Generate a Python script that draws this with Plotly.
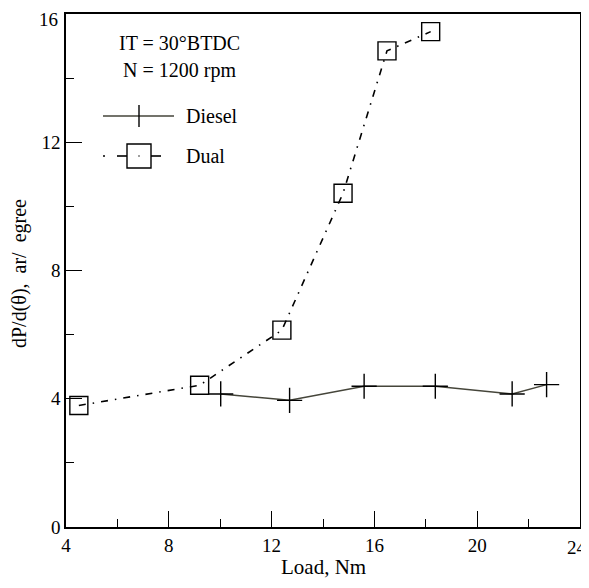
import plotly.graph_objects as go

# Data
diesel_load = [10.02, 12.7, 15.6, 18.37, 21.36, 22.7]
diesel_val = [4.15, 3.95, 4.39, 4.39, 4.15, 4.44]
dual_load = [4.5, 9.2, 12.4, 14.78, 16.49, 18.19]
dual_val = [3.79, 4.42, 6.14, 10.41, 14.85, 15.45]
x_ticks = [4, 8, 12, 16, 20, 24]
y_ticks = [0, 4, 8, 12, 16]

FONT = "Liberation Serif"
OFF = 8  # browser default body margin
W, H = 589 - OFF, 588 - 2 * OFF
# plot area in page pixels: x 66..580, y 14..527
L, R, T, B = 66 - OFF, W - (580 - OFF), 14 - OFF, H - (527 - OFF)
pw, ph = W - L - R, H - T - B

def px(xp):
    return (xp - OFF - L) / pw

def py(yp):
    return (H - B - (yp - OFF)) / ph

fig = go.Figure()
fig.add_trace(go.Scatter(
    x=dual_load, y=dual_val, mode="lines+markers", name="Dual",
    line=dict(color="black", width=1.6, dash="7px,7px,1.5px,7px"),
    marker=dict(symbol="square-open", size=18, color="black", line=dict(width=1.4)),
    showlegend=False))
fig.add_trace(go.Scatter(
    x=diesel_load, y=diesel_val, mode="lines+markers", name="Diesel",
    line=dict(color="#45453a", width=1.5),
    marker=dict(symbol="cross-thin-open", size=18, color="black", line=dict(width=1.4, color="black")),
    showlegend=False))

shapes = []
# Legend: Diesel
yd = 116
shapes.append(dict(type="line", xref="paper", yref="paper", x0=px(103), x1=px(174), y0=py(yd), y1=py(yd),
                   line=dict(color="#45453a", width=1.5)))
shapes.append(dict(type="line", xref="paper", yref="paper", x0=px(139), x1=px(139), y0=py(yd - 11), y1=py(yd + 11),
                   line=dict(color="black", width=1.4)))
# Legend: Dual
yq = 156
shapes.append(dict(type="line", xref="paper", yref="paper", x0=px(103), x1=px(105), y0=py(yq), y1=py(yq),
                   line=dict(color="black", width=1.5)))
shapes.append(dict(type="line", xref="paper", yref="paper", x0=px(117), x1=px(127), y0=py(yq), y1=py(yq),
                   line=dict(color="black", width=1.6)))
shapes.append(dict(type="line", xref="paper", yref="paper", x0=px(138.5), x1=px(139.5), y0=py(yq), y1=py(yq),
                   line=dict(color="black", width=1.6)))
shapes.append(dict(type="line", xref="paper", yref="paper", x0=px(151), x1=px(161), y0=py(yq), y1=py(yq),
                   line=dict(color="black", width=1.6)))
shapes.append(dict(type="rect", xref="paper", yref="paper", x0=px(127), x1=px(151), y0=py(yq + 12), y1=py(yq - 12),
                   line=dict(color="black", width=1.4)))

TXT = dict(family=FONT, size=20, color="black")
annotations = [
    dict(text="IT = 30°BTDC", x=px(179), y=py(43), xref="paper", yref="paper", showarrow=False,
         font=TXT, xanchor="center", yanchor="middle"),
    dict(text="N = 1200 rpm", x=px(179), y=py(70), xref="paper", yref="paper", showarrow=False,
         font=TXT, xanchor="center", yanchor="middle"),
    dict(text="Diesel", x=px(184), y=py(yd), xref="paper", yref="paper", showarrow=False,
         font=TXT, xanchor="left", yanchor="middle"),
    dict(text="Dual", x=px(184), y=py(yq), xref="paper", yref="paper", showarrow=False,
         font=TXT, xanchor="left", yanchor="middle"),
    dict(text="dP/d(θ),&nbsp; ar/&nbsp; egree", x=px(19), y=py(274), xref="paper", yref="paper", showarrow=False,
         textangle=-90, font=dict(family=FONT, size=20, color="black"), xanchor="center", yanchor="middle"),
    dict(text="Load, Nm", x=px(323), y=py(567), xref="paper", yref="paper", showarrow=False,
         font=dict(family=FONT, size=21, color="black"), xanchor="center", yanchor="middle", borderpad=0),
    # edge tick labels placed so they stay inside the page
    dict(text="24", x=px(588), y=py(536), xref="paper", yref="paper", showarrow=False,
         font=dict(family=FONT, size=19, color="black"), xanchor="right", yanchor="top", borderpad=0),
    dict(text="16", x=px(59), y=py(8), xref="paper", yref="paper", showarrow=False,
         font=dict(family=FONT, size=19, color="black"), xanchor="right", yanchor="top", borderpad=0),
]

fig.update_layout(
    width=W, height=H,
    margin=dict(l=L, r=R, t=T, b=B, autoexpand=False),
    paper_bgcolor="white", plot_bgcolor="white",
    font=dict(family=FONT, size=19, color="black"),
    shapes=shapes, annotations=annotations,
    showlegend=False,
)
fig.update_xaxes(
    range=[4, 24], tickvals=x_ticks, ticktext=[str(v) if v != 24 else "" for v in x_ticks],
    ticks="inside", ticklen=16, tickwidth=1.3, tickcolor="black",
    minor=dict(dtick=2, ticks="inside", ticklen=8, tickwidth=1.3, tickcolor="black"),
    showline=True, linecolor="black", linewidth=1.5, mirror=True, showgrid=False, zeroline=False,
    tickfont=dict(family=FONT, size=19), ticklabeloverflow="allow",
)
fig.update_yaxes(
    range=[0, 16], tickvals=y_ticks, ticktext=[str(v) if v != 16 else "" for v in y_ticks],
    ticks="inside", ticklen=16, tickwidth=1.3, tickcolor="black",
    minor=dict(dtick=2, ticks="inside", ticklen=8, tickwidth=1.3, tickcolor="black"),
    showline=True, linecolor="black", linewidth=1.5, mirror=True, showgrid=False, zeroline=False,
    tickfont=dict(family=FONT, size=19), ticklabeloverflow="allow",
)

fig.write_html("out.html")
